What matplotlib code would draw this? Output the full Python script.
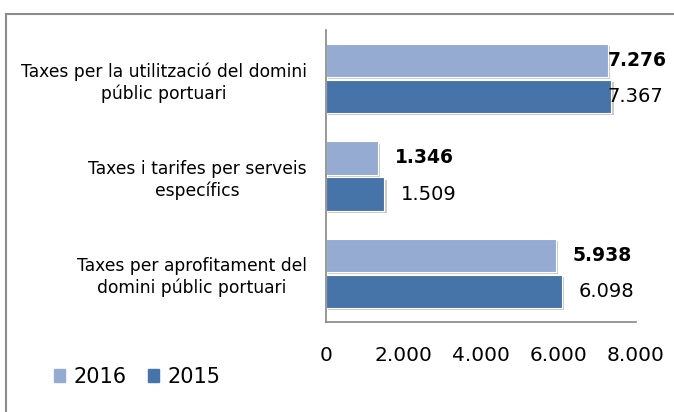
import numpy as np
import matplotlib
matplotlib.use('Agg')
import matplotlib.pyplot as plt
from matplotlib.patches import Patch, Rectangle
import matplotlib.patheffects as pe

categories = ['Taxes per la utilització del domini\npúblic portuari',
              'Taxes i tarifes per serveis\nespecífics',
              'Taxes per aprofitament del\ndomini públic portuari']
vals_2016 = [7276, 1346, 5938]
vals_2015 = [7367, 1509, 6098]
xticks = [0, 2000, 4000, 6000, 8000]
xticklabels = ['0', '2.000', '4.000', '6.000', '8.000']

c2016 = '#95abd2'
c2015 = '#4673a8'

plt.rcParams['font.family'] = ['DejaVu Sans']

fig = plt.figure(figsize=(6.74, 4.12), dpi=100)
ax = fig.add_axes([326 / 674, 1 - 322 / 412, 310 / 674, 292 / 412])

y = np.arange(len(categories))
shadow = [pe.withSimplePatchShadow(offset=(1.5, -1.5), shadow_rgbFace='#999999', alpha=0.5)]
b1 = ax.barh(y - 0.185, vals_2016, height=0.34, color=c2016,
             edgecolor='white', linewidth=0.8, label='2016')
b2 = ax.barh(y + 0.185, vals_2015, height=0.34, color=c2015,
             edgecolor='white', linewidth=0.8, label='2015')
for b in list(b1) + list(b2):
    b.set_path_effects(shadow)

ax.set_xlim(0, 8000)
ax.set_ylim(2.5, -0.5)


def fmt(v):
    return format(v, ',').replace(',', '.')


# value labels, pushed in from the right edge like Excel does
off = 430
maxstart = 7260
for i in range(len(categories)):
    ax.text(min(vals_2016[i] + off, maxstart), y[i] - 0.185, fmt(vals_2016[i]),
            ha='left', va='center', fontsize=13.5, fontweight='bold', clip_on=False)
    ax.text(min(vals_2015[i] + off, maxstart), y[i] + 0.185, fmt(vals_2015[i]),
            ha='left', va='center', fontsize=14, clip_on=False)

ax.set_xticks(xticks)
ax.set_xticklabels(xticklabels, fontsize=14.5)
ax.set_yticks(y)
ax.set_yticklabels(categories, fontsize=12.3, linespacing=1.25)
for t in ax.get_yticklabels():
    t.set_multialignment('center')
ax.tick_params(axis='x', length=0, pad=17)
ax.tick_params(axis='y', length=0, pad=14)

for s in ['top', 'right']:
    ax.spines[s].set_visible(False)
ax.spines['left'].set_color('#868686')
ax.spines['bottom'].set_color('#868686')
ax.spines['left'].set_linewidth(1.2)
ax.spines['bottom'].set_linewidth(1.2)

handles = [Patch(color=c2016), Patch(color=c2015)]
fig.legend(handles, ['2016', '2015'], loc='center left',
           bbox_to_anchor=(35 / 674, 1 - 377 / 412), ncol=2, frameon=False,
           fontsize=15, handlelength=0.55, handleheight=0.55,
           handletextpad=0.4, columnspacing=1.0)

# outer chart frame
fig.patches.append(Rectangle((6 / 674, -0.05), 1.1, 1 - 14 / 412 + 0.05,
                             transform=fig.transFigure, fill=False,
                             edgecolor='#8c8c8c', linewidth=1.5))

fig.savefig('out.png', dpi=100)
